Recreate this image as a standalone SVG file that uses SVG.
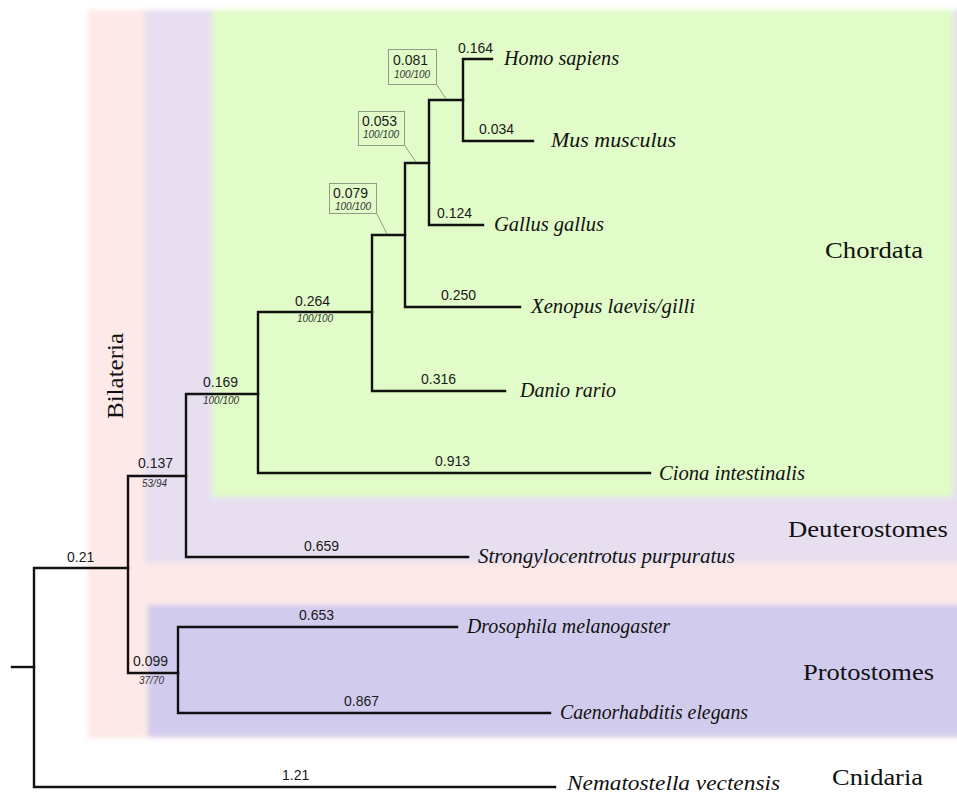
<svg xmlns="http://www.w3.org/2000/svg" width="957" height="795" viewBox="0 0 957 795">
<defs>
<filter id="soft" filterUnits="userSpaceOnUse" x="-20" y="-20" width="1020" height="850">
<feGaussianBlur stdDeviation="2.5"/>
</filter>
<style>
.br{fill:none;stroke:#111;stroke-width:2.4;stroke-linecap:square}
.len{font-family:"Liberation Sans",Arial,sans-serif;font-size:14px;fill:#1a1a1a}
.sup{font-family:"Liberation Sans",Arial,sans-serif;font-size:10px;font-style:italic;fill:#333}
.sp{font-family:"Liberation Serif","Times New Roman",serif;font-size:20px;font-style:italic;fill:#111}
.cl{font-family:"Liberation Serif","Times New Roman",serif;font-size:23px;fill:#111}
.box{fill:none;stroke:#8f9c86;stroke-width:1}
.lead{fill:none;stroke:#8f9c86;stroke-width:1}
</style>
</defs>
<rect width="957" height="795" fill="#ffffff"/>
<g id="backgrounds" filter="url(#soft)">
<rect id="bilateria-bg" x="88" y="10" width="900" height="728" fill="#fde9e7"/>
<rect id="deuterostomes-bg" x="145" y="10" width="840" height="553" fill="#e7dff0"/>
<rect id="chordata-bg" x="212" y="10" width="741" height="487" fill="#e1fcc8"/>
<rect id="protostomes-bg" x="148" y="605" width="840" height="132" fill="#d1cbee"/>
</g>
<g id="clade-labels">
<text class="cl" x="825" y="258" textLength="98" lengthAdjust="spacingAndGlyphs">Chordata</text>
<text class="cl" x="788" y="537" textLength="160" lengthAdjust="spacingAndGlyphs">Deuterostomes</text>
<text class="cl" x="803" y="680" textLength="131" lengthAdjust="spacingAndGlyphs">Protostomes</text>
<text class="cl" x="832" y="785" textLength="91" lengthAdjust="spacingAndGlyphs">Cnidaria</text>
<text class="cl" transform="translate(123,419) rotate(-90)" x="0" y="0" textLength="86" lengthAdjust="spacingAndGlyphs">Bilateria</text>
</g>
<g id="connectors">
<path class="br" d="M12,667 H34"/>
<path class="br" d="M555,787 H34 V568 H128"/>
<path class="br" d="M186,476 H128 V673 H178"/>
<path class="br" d="M457,627 H178 V713 H550"/>
<path class="br" d="M258,394 H186 V557 H468"/>
<path class="br" d="M372,312 H258 V473 H650"/>
<path class="br" d="M405,235 H372 V391 H505"/>
<path class="br" d="M429,163 H405 V307 H520"/>
<path class="br" d="M463,100 H429 V225 H483"/>
<path class="br" d="M492,59 H463 V141 H533"/>
</g>
<g id="node-mammalia">
<rect class="box" x="388.5" y="49.5" width="48" height="35"/>
<path class="lead" d="M437,85 L446,99"/>
<text class="len" x="393" y="65">0.081</text>
<text class="sup" x="394" y="78">100/100</text>
</g>
<g id="node-amniota">
<rect class="box" x="358.5" y="111.5" width="46" height="34"/>
<path class="lead" d="M405,146 L416,162"/>
<text class="len" x="362" y="126">0.053</text>
<text class="sup" x="363" y="138">100/100</text>
</g>
<g id="node-tetrapoda">
<rect class="box" x="329.5" y="183.5" width="47" height="30"/>
<path class="lead" d="M377,214 L387,234"/>
<text class="len" x="333" y="198">0.079</text>
<text class="sup" x="335" y="210">100/100</text>
</g>
<g id="node-vertebrata">
<text class="len" x="295" y="306">0.264</text>
<text class="sup" x="297" y="322">100/100</text>
</g>
<g id="node-chordata">
<text class="len" x="203" y="387">0.169</text>
<text class="sup" x="203" y="404">100/100</text>
</g>
<g id="node-deuterostomia">
<text class="len" x="138" y="468">0.137</text>
<text class="sup" x="142" y="487">53/94</text>
</g>
<g id="node-bilateria">
<text class="len" x="67" y="562">0.21</text>
</g>
<g id="node-protostomia">
<text class="len" x="133" y="666">0.099</text>
<text class="sup" x="139" y="684">37/70</text>
</g>
<g id="leaf-homo">
<text class="len" x="458" y="53">0.164</text>
<text class="sp" x="504" y="65" textLength="115" lengthAdjust="spacingAndGlyphs">Homo sapiens</text>
</g>
<g id="leaf-mus">
<text class="len" x="479" y="134">0.034</text>
<text class="sp" x="551" y="147" textLength="125" lengthAdjust="spacingAndGlyphs">Mus musculus</text>
</g>
<g id="leaf-gallus">
<text class="len" x="437" y="218">0.124</text>
<text class="sp" x="494" y="231" textLength="110" lengthAdjust="spacingAndGlyphs">Gallus gallus</text>
</g>
<g id="leaf-xenopus">
<text class="len" x="441" y="300">0.250</text>
<text class="sp" x="531" y="313" textLength="164" lengthAdjust="spacingAndGlyphs">Xenopus laevis/gilli</text>
</g>
<g id="leaf-danio">
<text class="len" x="421" y="384">0.316</text>
<text class="sp" x="520" y="397" textLength="96" lengthAdjust="spacingAndGlyphs">Danio rario</text>
</g>
<g id="leaf-ciona">
<text class="len" x="435" y="466">0.913</text>
<text class="sp" x="659" y="480" textLength="146" lengthAdjust="spacingAndGlyphs">Ciona intestinalis</text>
</g>
<g id="leaf-strongylocentrotus">
<text class="len" x="304" y="551">0.659</text>
<text class="sp" x="478" y="563" textLength="257" lengthAdjust="spacingAndGlyphs">Strongylocentrotus purpuratus</text>
</g>
<g id="leaf-drosophila">
<text class="len" x="299" y="620">0.653</text>
<text class="sp" x="467" y="633" textLength="203" lengthAdjust="spacingAndGlyphs">Drosophila melanogaster</text>
</g>
<g id="leaf-caenorhabditis">
<text class="len" x="344" y="706">0.867</text>
<text class="sp" x="560" y="719" textLength="188" lengthAdjust="spacingAndGlyphs">Caenorhabditis elegans</text>
</g>
<g id="leaf-nematostella">
<text class="len" x="282" y="780">1.21</text>
<text class="sp" x="567" y="790" textLength="213" lengthAdjust="spacingAndGlyphs">Nematostella vectensis</text>
</g>
</svg>
